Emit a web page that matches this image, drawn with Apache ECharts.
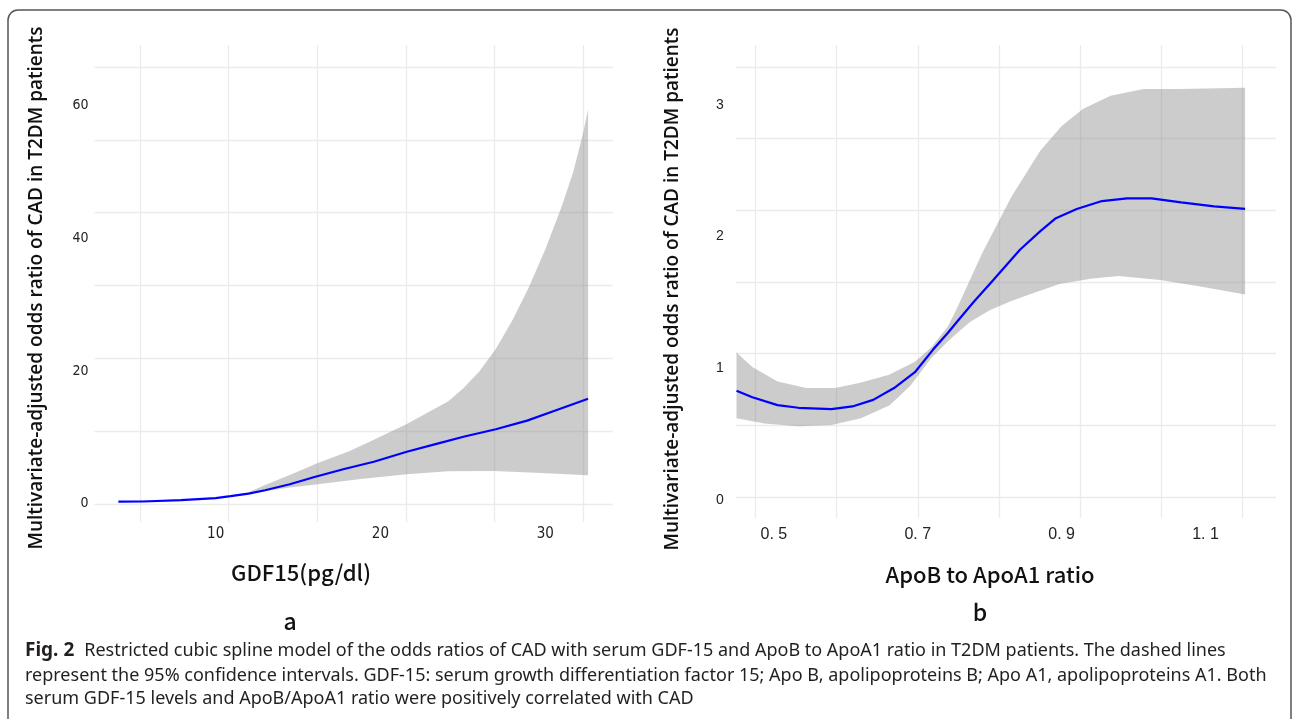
<!DOCTYPE html>
<html>
<head>
<meta charset="utf-8">
<script src="https://cdn.jsdelivr.net/npm/echarts@6/dist/echarts.min.js"></script>
<style>
html,body{margin:0;padding:0;background:#fff;}
#c{width:1293px;height:719px;}
</style>
</head>
<body>
<div id="c"></div>
<script>
// ---- Panel a: GDF15 ----
const gdfX  = [4.1, 5.6, 7.9, 10, 10.9, 12.0, 13.0, 14.5, 16.0, 17.8, 19.6, 21.6, 23.4, 25.1, 27.0, 28.9, 30.7, 32.6];
const gdfOR = [0.27, 0.3, 0.5, 0.8, 1.1, 1.5, 2.0, 2.9, 4.0, 5.2, 6.3, 7.8, 9.0, 10.1, 11.2, 12.5, 14.1, 15.8];
const gdfLowX = [4.1, 7.9, 10, 11, 12, 13, 14.5, 16.2, 18.8, 21.6, 24.1, 26.9, 29.4, 32.6];
const gdfLow  = [0.2, 0.45, 0.75, 1.0, 1.4, 1.9, 2.4, 2.9, 3.7, 4.4, 4.85, 4.9, 4.65, 4.25];
const gdfUpX  = [4.1, 7.9, 10, 11, 12, 13, 14.5, 16.2, 18.1, 19.6, 21.6, 24.1, 25.0, 26.0, 27.0, 28.0, 29.0, 30.0, 31.0, 31.7, 32.3, 32.6];
const gdfUp   = [0.35, 0.55, 0.85, 1.2, 1.7, 2.8, 4.3, 6.1, 7.9, 9.6, 12.0, 15.4, 17.3, 19.9, 23.3, 27.6, 32.6, 38.3, 44.8, 50.0, 55.9, 59.4];
const gdfXTicks = [10, 20, 30];
const gdfYTicks = [0, 20, 40, 60];

// ---- Panel b: ApoB/ApoA1 ----
const apoX  = [0.448, 0.470, 0.505, 0.534, 0.580, 0.609, 0.638, 0.667, 0.696, 0.721, 0.742, 0.754, 0.777, 0.805, 0.842, 0.870, 0.892, 0.921, 0.956, 0.991, 1.025, 1.066, 1.112, 1.155];
const apoOR = [0.83, 0.78, 0.72, 0.70, 0.69, 0.71, 0.76, 0.85, 0.97, 1.14, 1.27, 1.35, 1.50, 1.67, 1.90, 2.04, 2.14, 2.21, 2.27, 2.29, 2.29, 2.26, 2.23, 2.21];
const apoUpX = [0.448, 0.470, 0.505, 0.545, 0.585, 0.620, 0.660, 0.696, 0.719, 0.742, 0.754, 0.790, 0.830, 0.870, 0.900, 0.930, 0.968, 1.014, 1.066, 1.155];
const apoUp  = [1.12, 1.01, 0.90, 0.85, 0.85, 0.89, 0.95, 1.05, 1.16, 1.32, 1.45, 1.88, 2.30, 2.65, 2.84, 2.97, 3.07, 3.12, 3.12, 3.13];
const apoLowX = [0.448, 0.487, 0.534, 0.580, 0.621, 0.661, 0.690, 0.719, 0.745, 0.772, 0.800, 0.830, 0.860, 0.897, 0.940, 0.979, 1.037, 1.095, 1.155];
const apoLow  = [0.62, 0.58, 0.56, 0.57, 0.62, 0.72, 0.87, 1.08, 1.22, 1.35, 1.44, 1.51, 1.57, 1.64, 1.68, 1.70, 1.67, 1.62, 1.56];
const apoXTicks = [0.5, 0.7, 0.9, 1.1];
const apoXTickLabels = ['0. 5', '0. 7', '0. 9', '1. 1'];
const apoYTicks = [0, 1, 2, 3];

// ---- Text ----
const yTitle = 'Multivariate-adjusted odds ratio of CAD in T2DM patients';
const xTitleA = 'GDF15(pg/dl)';
const xTitleB = 'ApoB to ApoA1 ratio';
const captionLines = [
  'Restricted cubic spline model of the odds ratios of CAD with serum GDF-15 and ApoB to ApoA1 ratio in T2DM patients. The dashed lines',
  'represent the 95% confidence intervals. GDF-15: serum growth differentiation factor 15; Apo B, apolipoproteins B; Apo A1, apolipoproteins A1. Both',
  'serum GDF-15 levels and ApoB/ApoA1 ratio were positively correlated with CAD'
];

const pairs = (xs, ys) => xs.map((x, i) => [x, ys[i]]);

const GRID_COLOR = '#ebebeb';
const lineGridAxis = (min, max, showSplit) => ({
  type: 'value', min: min, max: max, interval: 1,
  axisLine: {show: false}, axisTick: {show: false}, axisLabel: {show: false},
  splitLine: {show: showSplit, lineStyle: {color: GRID_COLOR, width: 1.3}}
});

function bandSeries(xIdx, yIdx, upX, up, lowX, low) {
  const upPts = pairs(upX, up);
  const lowPts = pairs(lowX, low).reverse();
  return {
    type: 'custom', xAxisIndex: xIdx, yAxisIndex: yIdx, silent: true, z: 2,
    data: [[upX[0], up[0]]],
    encode: {x: 0, y: 1},
    renderItem: function (params, api) {
      const pts = upPts.concat(lowPts).map(p => api.coord(p));
      return {type: 'polygon', shape: {points: pts}, style: {fill: 'rgba(128,128,128,0.4)', stroke: 'none'}};
    }
  };
}

const tickFontA = {fontFamily: '"Liberation Sans Narrow", "DejaVu Sans Condensed", "Liberation Sans", sans-serif', fontSize: 15, color: '#222'};
const tickFontB = {fontFamily: '"Liberation Sans", Arial, sans-serif', fontSize: 16, color: '#222'};
const tickFontBY = {fontFamily: '"Liberation Sans", Arial, sans-serif', fontSize: 14, color: '#222'};

const option = {
  backgroundColor: '#fff',
  animation: false,
  grid: [
    {left: 94.5, top: 45, width: 518.3, height: 477},
    {left: 94.5, top: 67, width: 518.3, height: 437},
    {left: 140.1, top: 45, width: 442.8, height: 477},
    {left: 735.8, top: 45, width: 540.2, height: 473},
    {left: 735.8, top: 67, width: 540.2, height: 430},
    {left: 755.4, top: 45, width: 487.3, height: 473}
  ],
  xAxis: [
    {gridIndex: 0, type: 'value', min: 2.65, max: 34.10,
      axisLine: {show: false}, axisTick: {show: false}, splitLine: {show: false},
      axisLabel: Object.assign({customValues: gdfXTicks, margin: 5}, tickFontA)},
    Object.assign({gridIndex: 1}, lineGridAxis(0, 1, false)),
    Object.assign({gridIndex: 2}, lineGridAxis(0, 5, true)),
    {gridIndex: 3, type: 'value', min: 0.447, max: 1.198,
      axisLine: {show: false}, axisTick: {show: false}, splitLine: {show: false},
      axisLabel: Object.assign({customValues: apoXTicks, margin: 9,
        formatter: v => { const i = apoXTicks.findIndex(t => Math.abs(t - v) < 1e-6); return i >= 0 ? apoXTickLabels[i] : ''; }}, tickFontB)},
    Object.assign({gridIndex: 4}, lineGridAxis(0, 1, false)),
    Object.assign({gridIndex: 5}, lineGridAxis(0, 6, true))
  ],
  yAxis: [
    {gridIndex: 0, type: 'value', min: -2.79, max: 69.16,
      axisLine: {show: false}, axisTick: {show: false}, splitLine: {show: false},
      axisLabel: Object.assign({customValues: gdfYTicks, margin: 6}, tickFontA, {fontSize: 14})},
    Object.assign({gridIndex: 1}, lineGridAxis(0, 6, true)),
    Object.assign({gridIndex: 2}, lineGridAxis(0, 1, false)),
    {gridIndex: 3, type: 'value', min: -0.137, max: 3.455,
      axisLine: {show: false}, axisTick: {show: false}, splitLine: {show: false},
      axisLabel: Object.assign({customValues: apoYTicks, margin: 12}, tickFontBY)},
    Object.assign({gridIndex: 4}, lineGridAxis(0, 6, true)),
    Object.assign({gridIndex: 5}, lineGridAxis(0, 1, false))
  ],
  series: [
    bandSeries(0, 0, gdfUpX, gdfUp, gdfLowX, gdfLow),
    {type: 'line', xAxisIndex: 0, yAxisIndex: 0, data: pairs(gdfX, gdfOR), showSymbol: false, symbol: 'none', z: 3,
      lineStyle: {color: '#0000ff', width: 2.2}},
    bandSeries(3, 3, apoUpX, apoUp, apoLowX, apoLow),
    {type: 'line', xAxisIndex: 3, yAxisIndex: 3, data: pairs(apoX, apoOR), showSymbol: false, symbol: 'none', z: 3,
      lineStyle: {color: '#0000ff', width: 2.2}}
  ],
  graphic: [
    {type: 'rect', shape: {x: 8, y: 10, width: 1283, height: 740, r: 10}, style: {fill: 'none', stroke: '#555', lineWidth: 1.5}, z: 0},
    {type: 'text', x: 37, y: 288, rotation: Math.PI / 2,
      style: {text: yTitle, font: '600 19px "Open Sans", sans-serif', fill: '#111', textAlign: 'center', textVerticalAlign: 'middle'}},
    {type: 'text', x: 673, y: 289, rotation: Math.PI / 2,
      style: {text: yTitle, font: '600 19px "Open Sans", sans-serif', fill: '#111', textAlign: 'center', textVerticalAlign: 'middle'}},
    {type: 'text', x: 301, y: 573,
      style: {text: xTitleA, font: '500 22px "Noto Sans CJK SC", sans-serif', fill: '#111', textAlign: 'center', textVerticalAlign: 'middle'}},
    {type: 'text', x: 990, y: 575,
      style: {text: xTitleB, font: '500 22px "Noto Sans CJK SC", sans-serif', fill: '#111', textAlign: 'center', textVerticalAlign: 'middle'}},
    {type: 'text', x: 290, y: 621,
      style: {text: 'a', font: '500 23px "Noto Sans CJK SC", sans-serif', fill: '#111', textAlign: 'center', textVerticalAlign: 'middle'}},
    {type: 'text', x: 980, y: 612,
      style: {text: 'b', font: '500 23px "Noto Sans CJK SC", sans-serif', fill: '#111', textAlign: 'center', textVerticalAlign: 'middle'}},
    {type: 'text', x: 25, y: 651,
      style: {text: '{b|Fig. 2}   {n|' + captionLines[0] + '}', textVerticalAlign: 'middle',
        rich: {b: {font: 'bold 19px "Noto Sans", sans-serif', fill: '#231f20'}, n: {font: '18px "Noto Sans", sans-serif', fill: '#231f20'}}}},
    {type: 'text', x: 25, y: 676,
      style: {text: captionLines[1], font: '18px "Noto Sans", sans-serif', fill: '#231f20', textVerticalAlign: 'middle'}},
    {type: 'text', x: 25, y: 699,
      style: {text: captionLines[2], font: '18px "Noto Sans", sans-serif', fill: '#231f20', textVerticalAlign: 'middle'}}
  ]
};

const chart = echarts.init(document.getElementById('c'), null, {renderer: 'canvas'});
chart.setOption(option);
</script>
</body>
</html>
